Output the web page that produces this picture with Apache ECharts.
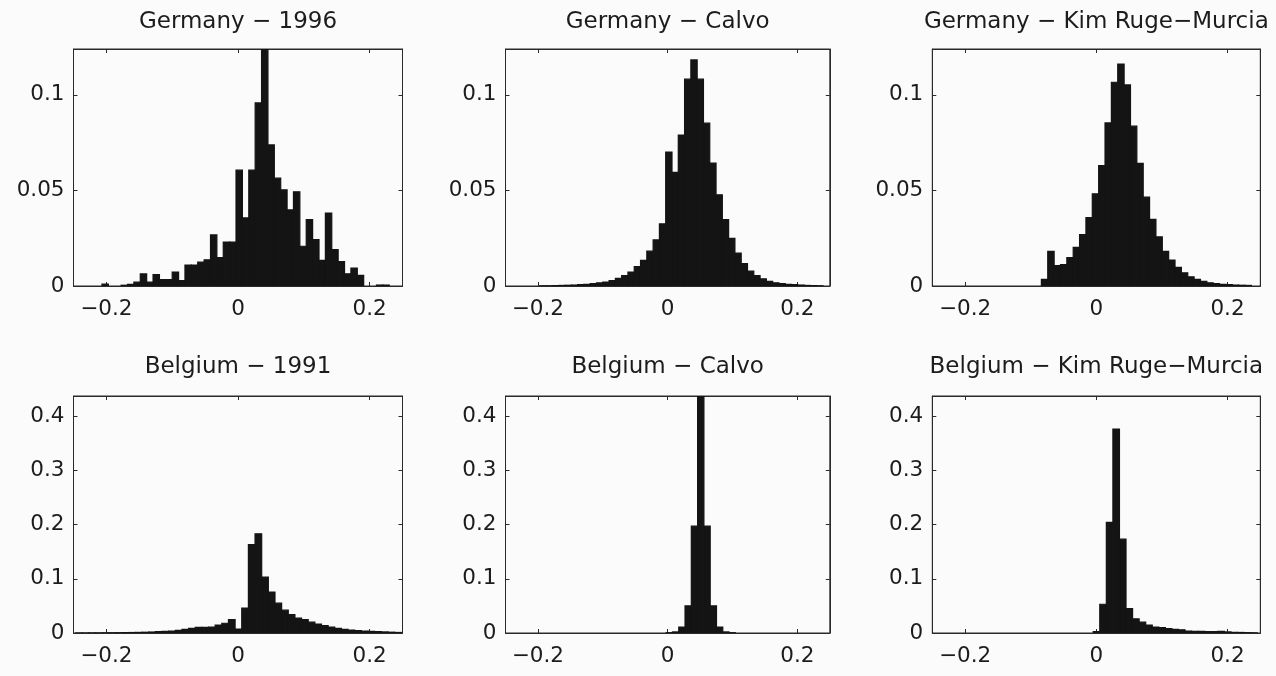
<!DOCTYPE html>
<html>
<head>
<meta charset="utf-8">
<script src="https://cdn.jsdelivr.net/npm/echarts@6/dist/echarts.min.js"></script>
<style>
  html, body { margin: 0; padding: 0; background: #fbfbfb; }
  #chart { width: 1276px; height: 676px; }
</style>
</head>
<body>
<div id="chart"></div>
<script>
// Panel titles (row by row)
const titles = [
  'Germany − 1996', 'Germany − Calvo', 'Germany − Kim Ruge−Murcia',
  'Belgium − 1991', 'Belgium − Calvo', 'Belgium − Kim Ruge−Murcia'
];

// Histogram bins: left edge of the first bin, bin width, and relative frequencies
const germany1996Start = -0.2455, germany1996Width = 0.0097;
const germany1996 = [0, 0, 0, 0, 0.001, 0, 0, 0.0004, 0.0008, 0.002,
  0.0063, 0.002, 0.006, 0.0033, 0.0033, 0.0073, 0.0028, 0.011, 0.011, 0.0125,
  0.0137, 0.0267, 0.0148, 0.023, 0.023, 0.0606, 0.0356, 0.0606, 0.0958, 0.124,
  0.0738, 0.0564, 0.0503, 0.0398, 0.0493, 0.0208, 0.0347, 0.0243, 0.0134, 0.0382,
  0.019, 0.0128, 0.0064, 0.0094, 0.0056, 0, 0, 0.0005, 0.0005, 0];

const germanyCalvoStart = -0.2455, germanyCalvoWidth = 0.0097;
const germanyCalvo = [0, 0, 0, 0, 0, 0.0001, 0.0001, 0.0002, 0.0003, 0.0004,
  0.0005, 0.0007, 0.0009, 0.0012, 0.0016, 0.0021, 0.0028, 0.004, 0.0054, 0.0073,
  0.0102, 0.0134, 0.0182, 0.0241, 0.0325, 0.0701, 0.0594, 0.079, 0.1082, 0.1183,
  0.1082, 0.0852, 0.0643, 0.0477, 0.0347, 0.0249, 0.0172, 0.0117, 0.0078, 0.0054,
  0.0037, 0.0024, 0.0017, 0.0012, 0.0009, 0.0007, 0.0005, 0.0003, 0.0002, 0.0001];

const germanyKrmStart = -0.2486, germanyKrmWidth = 0.0097;
const germanyKrm = [0, 0, 0, 0, 0, 0, 0, 0, 0, 0,
  0, 0, 0, 0, 0, 0, 0, 0.0035, 0.0181, 0.0107,
  0.0112, 0.0149, 0.0202, 0.0269, 0.0358, 0.0482, 0.063, 0.0853, 0.1066, 0.1161,
  0.1052, 0.0836, 0.0642, 0.0465, 0.0349, 0.0257, 0.0181, 0.0136, 0.0097, 0.0069,
  0.0048, 0.0035, 0.0024, 0.0017, 0.0012, 0.0009, 0.0007, 0.0005, 0.0004, 0.0003];

const belgium1991Start = -0.2468, belgium1991Width = 0.0101;
const belgium1991 = [0.0001, 0.0001, 0.0002, 0.0002, 0.0003, 0.0004, 0.0005, 0.0007, 0.0009, 0.0011,
  0.0014, 0.0018, 0.0025, 0.003, 0.0037, 0.005, 0.0068, 0.0086, 0.0104, 0.0104,
  0.011, 0.0147, 0.018, 0.0245, 0.0074, 0.046, 0.163, 0.183, 0.103, 0.0755,
  0.055, 0.042, 0.034, 0.0276, 0.0245, 0.02, 0.0166, 0.0135, 0.011, 0.0086,
  0.0068, 0.0055, 0.0043, 0.0037, 0.003, 0.0025, 0.002, 0.0015, 0.001];

const belgiumCalvoStart = -0.012, belgiumCalvoWidth = 0.0097;
const belgiumCalvo = [0, 0.0005, 0.002, 0.011, 0.05, 0.197, 0.49, 0.197, 0.05, 0.011, 0.002, 0.0005];

const belgiumKrmStart = -0.0047, belgiumKrmWidth = 0.01;
const belgiumKrm = [0.0025, 0.053, 0.204, 0.376, 0.173, 0.045, 0.026, 0.02, 0.0147, 0.011,
  0.0098, 0.008, 0.0067, 0.006, 0.0037, 0.003, 0.003, 0.0025, 0.0025, 0.003,
  0.002, 0.0012, 0.001, 0.0006, 0.0003];

// Axis ranges and tick labels
const xRange = [-0.25, 0.25];
const xTicks = [-0.2, 0, 0.2];
const yMaxTop = 0.124, yMaxBottom = 0.437;
const yTicksTop = [0, 0.05, 0.1];
const yTicksBottom = [0, 0.1, 0.2, 0.3, 0.4];

const panels = [
  { start: germany1996Start, width: germany1996Width, values: germany1996, yMax: yMaxTop, yTicks: yTicksTop },
  { start: germanyCalvoStart, width: germanyCalvoWidth, values: germanyCalvo, yMax: yMaxTop, yTicks: yTicksTop },
  { start: germanyKrmStart, width: germanyKrmWidth, values: germanyKrm, yMax: yMaxTop, yTicks: yTicksTop },
  { start: belgium1991Start, width: belgium1991Width, values: belgium1991, yMax: yMaxBottom, yTicks: yTicksBottom },
  { start: belgiumCalvoStart, width: belgiumCalvoWidth, values: belgiumCalvo, yMax: yMaxBottom, yTicks: yTicksBottom },
  { start: belgiumKrmStart, width: belgiumKrmWidth, values: belgiumKrm, yMax: yMaxBottom, yTicks: yTicksBottom }
];

// Plot-box layout in pixels
const boxLeft = [73.5, 505.5, 932.3];
const boxWidth = [329, 324.3, 328];
const boxTop = [49, 396];
const boxHeight = 237;

const FONT = 'DejaVu Sans';
const INK = '#1c1c1c';
const LINE = '#2a2a2a';
const BAR = '#141414';

const fmt = v => (v < 0 ? '−' + String(-v) : String(v));

const grid = [], xAxis = [], yAxis = [], series = [], title = [];

panels.forEach((p, i) => {
  const col = i % 3, row = Math.floor(i / 3);
  grid.push({
    left: boxLeft[col], top: boxTop[row], width: boxWidth[col], height: boxHeight,
    show: true, borderColor: LINE, borderWidth: 1, backgroundColor: 'transparent'
  });
  title.push({
    text: titles[i],
    left: boxLeft[col] + boxWidth[col] / 2,
    top: boxTop[row] - (row === 0 ? 38 : 40),
    textAlign: 'center',
    padding: 0,
    textStyle: { fontFamily: FONT, fontSize: 23, fontWeight: 'normal', color: INK }
  });
  const xBase = {
    type: 'value', gridIndex: i, min: xRange[0], max: xRange[1],
    splitLine: { show: false },
    axisLine: { show: true, onZero: false, lineStyle: { color: LINE, width: 1 } },
    axisTick: { show: true, inside: true, length: 4, customValues: xTicks, lineStyle: { color: LINE } }
  };
  xAxis.push(Object.assign({}, xBase, {
    position: 'bottom',
    axisLabel: { show: true, customValues: xTicks, formatter: fmt, margin: 12,
      fontFamily: FONT, fontSize: 21.5, color: INK }
  }));
  xAxis.push(Object.assign({}, xBase, { position: 'top', axisLabel: { show: false } }));
  const yBase = {
    type: 'value', gridIndex: i, min: 0, max: p.yMax,
    splitLine: { show: false },
    axisLine: { show: true, onZero: false, lineStyle: { color: LINE, width: 1 } },
    axisTick: { show: true, inside: true, length: 4, customValues: p.yTicks, lineStyle: { color: LINE } }
  };
  yAxis.push(Object.assign({}, yBase, {
    position: 'left',
    axisLabel: { show: true, customValues: p.yTicks, formatter: fmt, margin: 9,
      fontFamily: FONT, fontSize: 21.5, color: INK }
  }));
  yAxis.push(Object.assign({}, yBase, { position: 'right', axisLabel: { show: false } }));

  const bins = [];
  p.values.forEach((h, k) => {
    if (h > 0) bins.push([p.start + k * p.width, p.start + (k + 1) * p.width, h]);
  });
  series.push({
    type: 'custom',
    xAxisIndex: 2 * i, yAxisIndex: 2 * i,
    clip: true,
    silent: true,
    data: bins,
    encode: { x: [0, 1], y: 2 },
    renderItem: (params, api) => {
      const a = api.coord([api.value(0), 0]);
      const b = api.coord([api.value(1), api.value(2)]);
      return {
        type: 'rect',
        shape: { x: a[0], y: b[1], width: b[0] - a[0], height: a[1] - b[1] },
        style: { fill: BAR, stroke: BAR, lineWidth: 1.2 }
      };
    }
  });
});

const chart = echarts.init(document.getElementById('chart'), null, { renderer: 'canvas' });
chart.setOption({
  animation: false,
  backgroundColor: '#fbfbfb',
  title, grid, xAxis, yAxis, series
});
</script>
</body>
</html>
